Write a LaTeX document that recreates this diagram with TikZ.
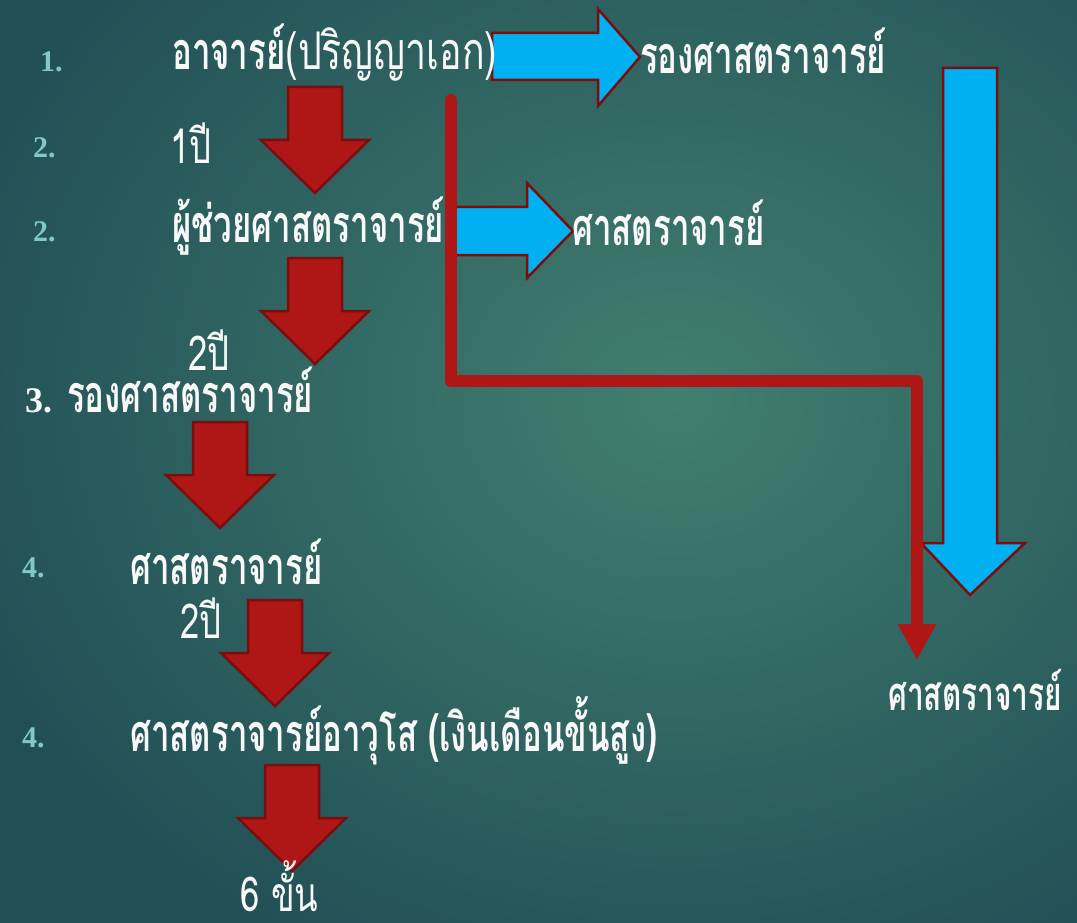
\documentclass[tikz,border=0pt]{standalone}
\usepackage{fontspec}
\usepackage{tikz}
\usetikzlibrary{positioning,arrows.meta,calc}
\newfontfamily\thaifont[Script=Thai,FakeStretch=0.635]{Loma}
\newfontfamily\thaithin[Script=Thai,FakeStretch=0.72]{Loma}
\newfontfamily\numfont{Liberation Serif}
\definecolor{bgin}{RGB}{66,126,112}
\definecolor{bgout}{RGB}{32,78,85}
\definecolor{arrowred}{RGB}{175,22,22}
\definecolor{edgered}{RGB}{122,14,14}
\definecolor{skyblue}{RGB}{0,176,240}
\definecolor{numteal}{RGB}{130,200,200}
\definecolor{txtwhite}{RGB}{248,248,248}

\tikzset{
  title/.style={text=txtwhite, font=\thaifont\bfseries\fontsize{52}{56}\selectfont, inner sep=0pt, anchor=west},
  years/.style={text=txtwhite, font=\thaithin\fontsize{48}{52}\selectfont, inner sep=0pt, anchor=west},
  num/.style={text=numteal, font=\numfont\bfseries\fontsize{30}{34}\selectfont, inner sep=0pt, anchor=west},
  redblk/.style={fill=arrowred, draw=edgered, line width=2.5pt},
  blueblk/.style={fill=skyblue, draw=edgered, line width=2.5pt},
  redline/.style={draw=arrowred, line width=12pt, line cap=round, line join=round}
}

\begin{document}
\begin{tikzpicture}[x=1pt,y=-1pt]
  \useasboundingbox (0,0) rectangle (1077,923);
  \clip (0,0) rectangle (1077,923);
  \shade[inner color=bgin, outer color=bgout] (-100,-250) rectangle (1450,1050);

  % blue arrows
  \draw[blueblk] (492,33) -- (598,33) -- (598,9) -- (640,57) -- (598,106) -- (598,80) -- (492,80) -- cycle;
  \draw[blueblk] (450,207) -- (527,207) -- (527,183) -- (573,231) -- (527,278) -- (527,255) -- (450,255) -- cycle;
  \draw[blueblk] (943,68) -- (997,68) -- (997,543) -- (1025,543) -- (970,595) -- (921,543) -- (943,543) -- cycle;

  % red arrows down the left
  \foreach \cx/\top in {315/87,315/258,220/422,275/600,292/765}
    \draw[redblk] (\cx-27,\top) -- (\cx+27,\top) -- (\cx+27,\top+53) -- (\cx+54,\top+53)
      -- (\cx,\top+106) -- (\cx-54,\top+53) -- (\cx-27,\top+53) -- cycle;

  % numbers
  \node[num] (n1) at (40,62) {1.};
  \node[num] (n2) at (33,148) {2.};
  \node[num] (n3) at (33,232) {2.};
  \node[num] (n4) at (22,568) {4.};
  \node[num] (n5) at (22,738) {4.};

  % ranks
  \node[title] (doctor) at (172,53) {อาจารย์{\thaithin\mdseries (ปริญญาเอก)}};
  \node[title] (assocA) at (640,51) {รองศาสตราจารย์};
  \node[years] (y1) at (170,143) {1ปี};
  \node[title] (asst) at (172,226) {ผู้ช่วยศาสตราจารย์};
  \node[title] (profA) at (572,223) {ศาสตราจารย์};
  \node[years] (y2) at (188,350) {2ปี};
  \node[title] (assocB) at (25,390) {{\numfont\bfseries\fontsize{36}{40}\selectfont 3.} รองศาสตราจารย์};
  \node[title] (profB) at (130,562) {ศาสตราจารย์};
  \node[years] (y3) at (180,618) {2ปี};
  \node[title] (senior) at (130,731) {ศาสตราจารย์อาวุโส (เงินเดือนขั้นสูง)};
  \node[years] (steps) at (240,886) {6 ขั้น};
  \node[title, font=\thaifont\bfseries\fontsize{47}{50}\selectfont] (profC) at (888,690) {ศาสตราจารย์};

  % fast track line
  \coordinate (redstart) at (451,100);
  \coordinate (redturn) at (917,381);
  \coordinate (redend) at (917,660);
  \draw[redline, -{Triangle[width=36pt,length=36pt]}] (redstart) |- (redturn) -- (redend);
\end{tikzpicture}
\end{document}
